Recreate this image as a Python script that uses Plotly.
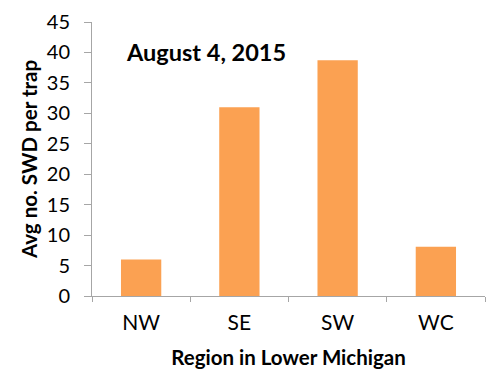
import plotly.graph_objects as go

regions = ["NW", "SE", "SW", "WC"]
avg_swd = [6.0, 31.0, 38.7, 8.1]
y_ticks = [0, 5, 10, 15, 20, 25, 30, 35, 40, 45]

FONT = "Lato"

fig = go.Figure()
fig.add_trace(go.Bar(
    x=regions, y=avg_swd,
    marker=dict(color="#FBA152", line=dict(width=0)),
    width=0.41,
))

fig.update_layout(
    width=500, height=380,
    margin=dict(l=84, r=23, t=14, b=92),
    paper_bgcolor="white", plot_bgcolor="white",
    showlegend=False,
    font=dict(family=FONT, color="#000000"),
    xaxis=dict(
        automargin=False,
        showline=True, linecolor="#A6A6A6", linewidth=1,
        ticks="outside", ticklen=5, tickcolor="#A6A6A6",
        tickson="boundaries",
        tickfont=dict(size=21, family=FONT),
        ticklabelstandoff=8,
        title=dict(text="<b>Region in Lower Michigan</b>", font=dict(size=20.5, family=FONT), standoff=17),
        showgrid=False,
    ),
    yaxis=dict(
        automargin=False,
        range=[0, 45], tickvals=y_ticks,
        showline=True, linecolor="#A6A6A6", linewidth=1,
        ticks="outside", ticklen=7, tickcolor="#A6A6A6",
        tickfont=dict(size=20, family=FONT),
        ticklabelstandoff=10,
        ticklabeloverflow="allow",
        title=dict(text="<b>Avg no. SWD per trap</b>", font=dict(size=20.5, family=FONT), standoff=3),
        showgrid=False, zeroline=False,
    ),
    annotations=[dict(
        text="<b>August 4, 2015</b>", xref="paper", yref="paper",
        x=(124-92)/393, y=(295-50)/275, xanchor="left", yanchor="middle",
        showarrow=False, font=dict(size=23.5, family=FONT, color="#000000"),
    )],
)

fig.write_html("out.html")
